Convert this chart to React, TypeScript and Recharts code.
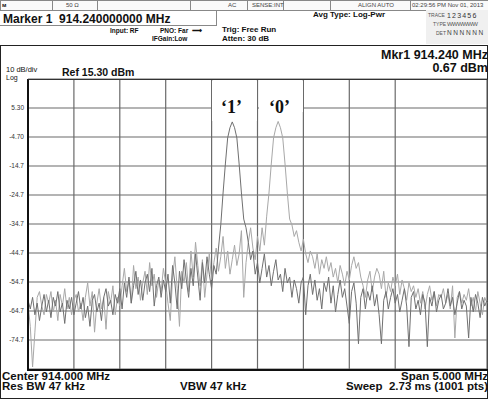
import { LineChart, Line, XAxis, YAxis, CartesianGrid } from 'recharts';

// sweep: 911.5 .. 916.5 MHz, every 25 kHz
const FREQ_START = 911.5;
const FREQ_STEP = 0.025;

const X_TICKS = [911.5, 912, 912.5, 913, 913.5, 914, 914.5, 915, 915.5, 916, 916.5];
const Y_TICKS = [-84.7, -74.7, -64.7, -54.7, -44.7, -34.7, -24.7, -14.7, -4.7, 5.3, 15.3];
const Y_LABELS = ['', '-74.7', '-64.7', '-54.7', '-44.7', '-34.7', '-24.7', '-14.7', '-4.70', '5.30', ''];

// trace for symbol '1' (dBm)
const TRACE_1 = [
  -61, -64, -60, -66, -62, -68, -63, -59, -65, -61,
  -67, -60, -63, -58, -65, -62, -69, -61, -64, -60,
  -66, -62, -58, -64, -60, -67, -63, -70, -61, -59,
  -65, -62, -68, -60, -57, -63, -61, -66, -59, -62,
  -57, -64, -55, -60, -53, -62, -56, -51, -59, -54,
  -61, -55, -52, -58, -50, -63, -56, -53, -60, -54,
  -58, -52, -62, -49, -55, -64, -51, -57, -47, -54,
  -60, -50, -56, -45, -53, -61, -48, -55, -46, -52,
  -57, -49, -52, -43, -35, -24, -14, -5, -1.5, 0.5,
  -1.5, -5, -14, -24, -33, -36, -41, -47, -44, -52,
  -48, -55, -50, -45, -53, -49, -56, -51, -47, -54,
  -52, -58, -50, -55, -53, -60, -54, -57, -62, -55,
  -53, -66, -56, -52, -59, -54, -61, -57, -64, -55,
  -58, -53, -62, -56, -65, -59, -54, -60, -57, -63,
  -69, -58, -55, -62, -76, -60, -57, -64, -58, -61,
  -56, -63, -59, -66, -76, -61, -58, -64, -60, -57,
  -62, -59, -65, -61, -57, -63, -77, -60, -58, -64,
  -61, -66, -59, -62, -77, -60, -63, -58, -65, -61,
  -59, -64, -62, -57, -63, -60, -66, -62, -58, -64,
  -61, -63, -74, -60, -65, -59, -62, -67, -60, -63,
  -61,
];

// trace for symbol '0' (dBm)
const TRACE_0 = [
  -62, -70, -84, -72, -60, -58, -63, -66, -59, -62,
  -58, -65, -61, -68, -59, -63, -57, -64, -60, -66,
  -61, -59, -65, -62, -68, -60, -55, -63, -58, -72,
  -62, -57, -64, -60, -71, -58, -62, -56, -66, -60,
  -63, -56, -50, -58, -54, -62, -49, -57, -53, -61,
  -55, -51, -59, -48, -56, -52, -60, -54, -58, -50,
  -55, -62, -68, -53, -46, -57, -70, -51, -55, -48,
  -58, -44, -53, -41, -49, -56, -47, -60, -52, -45,
  -54, -48, -43, -51, -46, -39, -50, -44, -52, -47,
  -42, -49, -45, -37, -60, -48, -41, -36, -43, -47,
  -39, -44, -36, -42, -32, -24, -14, -5, -1.5, 0.67,
  -1.5, -5, -14, -24, -33, -35, -39, -37, -41, -44,
  -40, -45, -48, -44, -46, -50, -45, -52, -47, -50,
  -46, -51, -48, -53, -50, -55, -49, -52, -56, -51,
  -54, -49, -46, -50, -48, -53, -56, -60, -54, -51,
  -58, -53, -50, -52, -57, -51, -60, -55, -58, -53,
  -56, -52, -59, -54, -57, -61, -55, -58, -56, -60,
  -57, -62, -58, -64, -59, -56, -61, -58, -63, -59,
  -60, -57, -62, -59, -64, -56, -74, -60, -58, -62,
  -59, -61, -57, -63, -60, -65, -58, -62, -66, -60,
  -62,
];

const rows = TRACE_1.map((v, i) => ({
  f: +(FREQ_START + i * FREQ_STEP).toFixed(3),
  t1: v,
  t0: TRACE_0[i],
}));

const SANS = '"Liberation Sans", Arial, sans-serif';

const txt = (left: number, top: number, size: number, bold = false): React.CSSProperties => ({
  position: 'absolute', left, top, fontSize: size, fontWeight: bold ? 700 : 400,
  lineHeight: 1, whiteSpace: 'nowrap', color: '#111',
});
const rtxt = (top: number, size: number, bold = false): React.CSSProperties => ({
  position: 'absolute', right: 0, top, fontSize: size, fontWeight: bold ? 700 : 400,
  lineHeight: 1, whiteSpace: 'nowrap', color: '#111',
});

export default function App() {
  return (
    <div style={{ position: 'absolute', left: 0, top: 0, width: 488, height: 402, overflow: 'hidden', background: '#fff', fontFamily: SANS }}>
      {/* status bar */}
      <div style={{ position: 'absolute', left: 0, top: 0, width: 487, height: 9, border: '1px solid #888', background: '#fafafa' }} />
      {[52, 97, 190, 247, 283, 330, 410].map((x) => (
        <div key={x} style={{ position: 'absolute', left: x, top: 0, width: 1, height: 10, background: '#888' }} />
      ))}
      <div style={{ ...txt(2, 2, 6, true) }}>ᴍ</div>
      <div style={{ ...txt(66, 2, 6), color: '#444' }}>50 Ω</div>
      <div style={{ ...txt(228, 2, 6), color: '#444' }}>AC</div>
      <div style={{ ...txt(252, 2, 6), color: '#444' }}>SENSE:INT</div>
      <div style={{ ...txt(358, 2, 6), color: '#444' }}>ALIGN AUTO</div>
      <div style={{ ...txt(412, 2, 6), color: '#444' }}>02:29:56 PM Nov 01, 2013</div>

      {/* marker box */}
      <div style={{ position: 'absolute', left: 0, top: 10, width: 216, height: 15, borderRight: '1px solid #888', borderBottom: '1px solid #888' }} />
      <div style={txt(3, 12.5, 12, true)}>Marker 1&nbsp; 914.240000000 MHz</div>
      <div style={txt(110, 28, 6.5, true)}>Input: RF</div>
      <div style={txt(160, 28, 6.5, true)}>PNO: Far&nbsp; ⟶</div>
      <div style={txt(152, 35.5, 6.5, true)}>IFGain:Low</div>
      <div style={txt(222, 26, 8, true)}>Trig: Free Run</div>
      <div style={txt(222, 35, 8, true)}>Atten: 30 dB</div>
      <div style={txt(313, 11, 8, true)}>Avg Type: Log-Pwr</div>

      {/* trace box */}
      <div style={{ position: 'absolute', left: 426, top: 10, width: 62, height: 34, background: '#f0f0f0' }} />
      <div style={{ ...txt(428, 13, 5), color: '#555' }}>TRACE</div>
      <div style={{ ...txt(447, 11.5, 7), color: '#333', letterSpacing: 1.2 }}>123456</div>
      <div style={{ ...txt(433, 22, 5), color: '#555' }}>TYPE</div>
      <div style={{ ...txt(447, 21, 6), color: '#555', letterSpacing: -0.6 }}>WWWWWW</div>
      <div style={{ ...txt(436, 31, 5), color: '#555' }}>DET</div>
      <div style={{ ...txt(447, 30, 6.5), color: '#444', letterSpacing: 1.6 }}>NNNNNN</div>

      {/* main frame */}
      <div style={{ position: 'absolute', left: 0, top: 45, width: 486, height: 352, border: '1.5px solid #222' }} />

      <div style={rtxt(48.5, 12.5, true)}>Mkr1 914.240 MHz</div>
      <div style={rtxt(62, 12.5, true)}>0.67 dBm</div>
      <div style={txt(6, 66, 7.5)}>10 dB/div</div>
      <div style={txt(6, 74, 7)}>Log</div>
      <div style={txt(62, 66.5, 10.5, true)}>Ref 15.30 dBm</div>

      <div style={{ position: 'absolute', left: 0, top: 0 }}>
        <LineChart width={488} height={402} data={rows} margin={{ top: 79, right: 1, bottom: 33, left: 0 }}>
          <CartesianGrid stroke="#6a6a6a" strokeWidth={1.2} />
          <XAxis dataKey="f" type="number" domain={[911.5, 916.5]} ticks={X_TICKS} hide />
          <YAxis
            type="number"
            domain={[-84.7, 15.3]}
            ticks={Y_TICKS}
            width={28}
            interval={0}
            allowDataOverflow
            axisLine={false}
            tickLine={false}
            tickSize={0}
            tickMargin={4}
            tick={{ fontSize: 6.5, fill: '#333', fontFamily: SANS }}
            tickFormatter={(v: number) => Y_LABELS[Y_TICKS.indexOf(v)] ?? ''}
          />
          <Line dataKey="t0" stroke="#a8a8a8" strokeWidth={1} dot={false} isAnimationActive={false} />
          <Line dataKey="t1" stroke="#707070" strokeWidth={1} dot={false} isAnimationActive={false} />
        </LineChart>
      </div>

      {/* plot border */}
      <div style={{ position: 'absolute', left: 27, top: 78.5, width: 459, height: 289, borderLeft: '2px solid #111', borderBottom: '2px solid #111', borderTop: '1px solid #333', borderRight: '1px solid #555' }} />

      {/* symbol labels */}
      <div style={{ position: 'absolute', left: 212, top: 81, width: 45, height: 40, background: '#fff' }} />
      <div style={{ position: 'absolute', left: 259, top: 81, width: 44, height: 31, background: '#fff' }} />
      <div style={{ ...txt(221, 98, 18, true), fontFamily: '"Liberation Serif", "Times New Roman", serif' }}>‘1’</div>
      <div style={{ ...txt(269, 98, 18, true), fontFamily: '"Liberation Serif", "Times New Roman", serif' }}>‘0’</div>

      {/* footer */}
      <div style={txt(2, 370.5, 11.5, true)}>Center 914.000 MHz</div>
      <div style={rtxt(370.5, 11.5, true)}>Span 5.000 MHz</div>
      <div style={txt(2, 381, 11.5, true)}>Res BW 47 kHz</div>
      <div style={txt(180, 381, 11.5, true)}>VBW 47 kHz</div>
      <div style={rtxt(381, 11.5, true)}>Sweep&nbsp; 2.73 ms (1001 pts)</div>
    </div>
  );
}
